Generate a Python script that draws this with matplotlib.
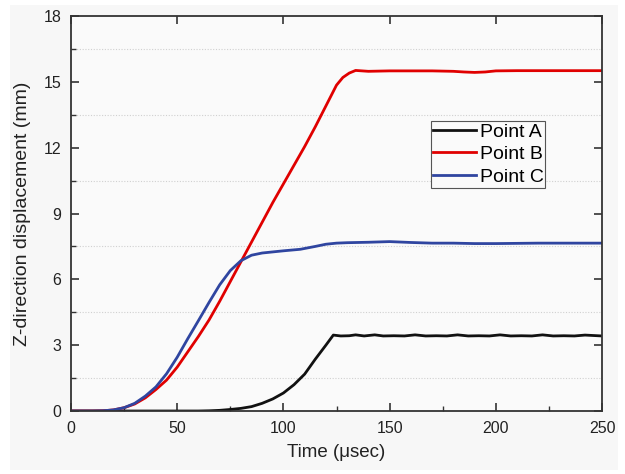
import matplotlib
matplotlib.use("Agg")
import matplotlib.pyplot as plt
from matplotlib.ticker import MultipleLocator
from matplotlib.patches import Rectangle

plt.rcParams['font.family'] = ['Liberation Sans', 'DejaVu Sans']

# ---- data ----
time_a = [0, 20, 40, 60, 65, 70, 75, 80, 85, 90, 95, 100, 105, 110, 115, 120, 123.5,
          127, 131, 134, 138, 143, 147, 152, 157, 162, 167, 172, 177, 182, 187, 192,
          197, 202, 207, 212, 217, 222, 227, 232, 237, 242, 246, 250]
disp_a = [0, 0, 0, 0, 0.01, 0.03, 0.07, 0.12, 0.2, 0.35, 0.55, 0.82, 1.2, 1.68, 2.36, 3.0, 3.46,
          3.42, 3.43, 3.47, 3.42, 3.47, 3.42, 3.43, 3.42, 3.47, 3.42, 3.43, 3.42, 3.47, 3.42, 3.43,
          3.42, 3.47, 3.42, 3.43, 3.42, 3.47, 3.42, 3.43, 3.42, 3.46, 3.44, 3.42]

time_b = [0, 10, 15, 20, 25, 30, 35, 40, 45, 50, 55, 60, 65, 70, 75, 80, 85, 90, 95, 100,
          105, 110, 115, 120, 125, 128, 131, 134, 140, 150, 160, 170, 180, 185, 190, 195,
          200, 210, 220, 230, 240, 250]
disp_b = [0, 0, 0.01, 0.05, 0.15, 0.32, 0.6, 0.98, 1.41, 2.0, 2.7, 3.4, 4.15, 5.0, 5.9, 6.8,
          7.7, 8.6, 9.5, 10.35, 11.2, 12.05, 12.95, 13.9, 14.85, 15.2, 15.4, 15.52, 15.48,
          15.5, 15.5, 15.5, 15.48, 15.45, 15.43, 15.45, 15.5, 15.51, 15.51, 15.51, 15.51, 15.51]

time_c = [0, 10, 15, 20, 25, 30, 35, 40, 45, 50, 55, 60, 65, 70, 75, 80, 85, 90, 95, 100,
          108, 115, 120, 125, 130, 140, 150, 160, 170, 180, 190, 200, 220, 250]
disp_c = [0, 0, 0.01, 0.05, 0.15, 0.35, 0.68, 1.1, 1.7, 2.45, 3.3, 4.12, 4.95, 5.75, 6.4,
          6.85, 7.1, 7.2, 7.25, 7.3, 7.37, 7.5, 7.6, 7.65, 7.67, 7.69, 7.72, 7.68, 7.65, 7.65,
          7.63, 7.63, 7.65, 7.65]

labels = ["Point A", "Point B", "Point C"]
colors = ["#111111", "#e00000", "#2f45a0"]

fig = plt.figure(figsize=(6.25, 4.74), dpi=100, facecolor="white")
fig.patches.append(Rectangle((0.016, 0.008), 0.973, 0.981, transform=fig.transFigure,
                             facecolor="#f7f7f7", edgecolor="none", zorder=-10))
ax = fig.add_axes([0.1136, 0.1329, 0.8496, 0.8333])
ax.set_facecolor("#fafafa")

for t, d, lab, c in zip([time_a, time_b, time_c], [disp_a, disp_b, disp_c], labels, colors):
    ax.plot(t, d, color=c, lw=2.0, label=lab)

ax.set_xlim(0, 250)
ax.set_ylim(0, 18)
ax.xaxis.set_major_locator(MultipleLocator(50))
ax.xaxis.set_minor_locator(MultipleLocator(25))
ax.yaxis.set_major_locator(MultipleLocator(3))
ax.yaxis.set_minor_locator(MultipleLocator(1.5))

ax.grid(True, which="minor", axis="y", linestyle=(0, (1, 1.5)), color="#d0d0d0", lw=0.8)
ax.set_axisbelow(True)

ax.tick_params(which="major", direction="in", length=6, width=1.2, colors="#333333",
               labelcolor="#222222", labelsize=11.5, top=True, right=True, pad=7)
ax.tick_params(which="minor", direction="in", length=3.5, width=1.0, colors="#333333",
               top=False, right=False)
for s in ax.spines.values():
    s.set_color("#333333")
    s.set_linewidth(1.3)

ax.set_xlabel("Time (\u03bcsec)", fontsize=13.5, color="#222222", labelpad=6)
ax.set_ylabel("Z-direction displacement (mm)", fontsize=14, color="#222222", labelpad=9)

leg = ax.legend(loc="upper left", bbox_to_anchor=(0.678, 0.734), fontsize=14,
                frameon=True, fancybox=False, edgecolor="#555555", framealpha=1,
                borderpad=0.1, labelspacing=0.25, handlelength=2.2, handletextpad=0.2,
                borderaxespad=0)
leg.get_frame().set_linewidth(0.8)
leg.get_frame().set_facecolor("#fafafa")

fig.savefig("out.png", dpi=100, facecolor=fig.get_facecolor())
